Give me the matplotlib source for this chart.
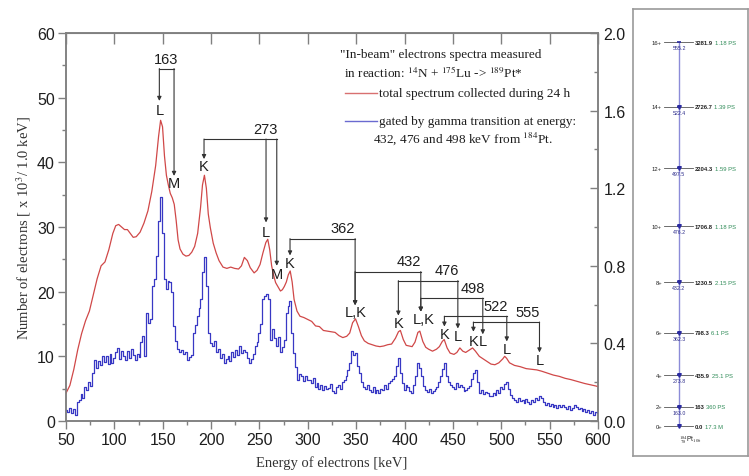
import numpy as np
import matplotlib
matplotlib.use("Agg")
import matplotlib.pyplot as plt
from matplotlib.ticker import MultipleLocator, FormatStrFormatter

plt.rcParams['font.family'] = ['Liberation Sans', 'DejaVu Sans']
plt.rcParams['mathtext.fontset'] = 'stix'

# ---------------- spectra ----------------
# total in-beam spectrum (counts x 10^3 per 1 keV)
red_energy = [50, 54, 58.1, 62.1, 66.1, 70.2, 74.2, 78.2, 82.2, 86.3,
              90.3, 94.3, 98.4, 101.4, 104.4, 107.4, 110.5, 113.5, 116.5, 119.5,
              122.6, 126.6, 130.6, 134.7, 138.7, 142.7, 145.7, 147.8, 149.8, 151.8,
              153.8, 155.8, 157.8, 159.9, 161.9, 163.9, 165.9, 167.9, 170.9, 174.0,
              177.0, 180.0, 183.0, 186.1, 189.1, 191.1, 193.1, 195.1, 197.1, 199.2,
              202.2, 205.2, 208.2, 212.3, 216.3, 220.3, 224.3, 228.4, 231.4, 234.4,
              237.5, 240.5, 244.5, 247.5, 250.6, 253.6, 256.6, 258.6, 260.6, 262.6,
              264.7, 266.7, 269.7, 271.7, 273.7, 275.7, 277.8, 279.8, 281.8, 283.8,
              285.8, 288.8, 291.9, 295.9, 299.9, 304.0, 308.0, 312.0, 316.1, 320.1,
              324.1, 328.2, 332.2, 336.2, 340.2, 343.3, 346.3, 349.3, 352.3, 355.4,
              358.4, 362.4, 366.4, 370.5, 374.5, 378.5, 382.6, 386.6, 390.6, 393.7,
              395.7, 398.7, 401.7, 404.7, 407.8, 410.8, 413.8, 415.8, 418.9, 421.9,
              424.9, 428.9, 433.0, 436.0, 439.0, 441.0, 444.0, 447.1, 451.1, 454.1,
              457.2, 460.2, 463.2, 467.2, 470.3, 473.3, 477.3, 481.3, 485.4, 489.4,
              493.4, 497.5, 501.5, 503.5, 505.5, 508.5, 513.6, 519.6, 525.7, 531.7,
              536.8, 541.8, 547.9, 553.9, 560.0, 566.0, 572.0, 579.1, 586.2, 592.2,
              598.2, 600]
red_counts = [4.3, 5.5, 8.0, 11.0, 13.5, 15.5, 17.0, 19.5, 22.0, 24.0,
              24.6, 26.5, 29.0, 30.2, 30.4, 30.0, 29.6, 29.6, 29.0, 28.4,
              28.5, 29.2, 30.6, 32.5, 35.5, 39.5, 44.0, 46.5, 45.5, 41.0,
              38.0, 36.5, 35.2, 34.5, 33.5, 31.0, 28.0, 26.6, 25.8, 25.5,
              25.6, 26.1, 27.0, 29.0, 33.0, 36.5, 38.0, 36.0, 32.0, 29.9,
              27.5, 26.0, 24.8, 23.8, 23.6, 23.8, 23.6, 23.5, 24.0, 25.3,
              24.8, 23.7, 22.9, 23.3, 24.2, 26.0, 27.6, 28.1, 26.5, 24.0,
              22.5, 21.4, 20.6, 20.1, 20.3, 20.8, 21.5, 22.6, 23.2, 21.5,
              18.8, 17.0, 16.2, 16.0, 15.7, 15.4, 14.7, 14.6, 14.0, 13.9,
              13.8, 13.7, 13.2, 12.9, 13.1, 13.6, 15.2, 15.8, 14.6, 13.2,
              12.4, 12.0, 11.8, 11.6, 11.5, 11.6, 11.8, 11.9, 12.8, 13.8,
              14.0, 12.6, 11.7, 11.6, 11.5, 12.2, 13.7, 13.9, 12.3, 11.4,
              11.1, 10.8, 11.1, 11.5, 12.3, 12.6, 11.3, 10.5, 10.3, 10.6,
              11.3, 10.8, 10.6, 11.0, 11.3, 10.8, 10.0, 9.6, 9.2, 8.8,
              8.7, 9.0, 9.6, 10.0, 9.7, 9.0, 8.6, 8.4, 8.1, 8.0,
              7.9, 7.7, 7.4, 7.1, 6.9, 6.6, 6.4, 6.1, 5.8, 5.6,
              5.4, 5.3]

# gamma-gated spectrum, 2 keV channels starting at 50 keV
blue_counts = [1.7, 1.4, 2.0, 1.2, 1.8, 1.0, 2.9, 3.3, 4.1, 3.6,
               5.3, 4.8, 6.0, 5.4, 7.4, 9.5, 8.2, 9.3, 8.7, 10.0,
               9.1, 10.1, 8.8, 10.3, 9.0, 9.8, 10.6, 11.3, 9.6, 10.8,
               10.1, 9.4, 10.9, 9.8, 11.1, 10.2, 9.5, 10.4, 9.9, 12.2,
               13.1, 10.1, 16.7, 15.2, 15.7, 20.9, 22.0, 25.5, 31.0, 34.6,
               29.0, 22.0, 20.4, 21.7, 21.5, 19.9, 14.7, 12.4, 11.2, 10.6,
               11.0, 10.4, 10.6, 9.5, 9.9, 10.2, 13.6, 14.8, 16.2, 17.5, 18.8,
               23.0, 25.3, 20.9, 13.6, 12.0, 11.6, 12.4, 10.6, 11.2, 9.8,
               10.4, 9.0, 9.6, 10.1, 9.3, 10.6, 9.9, 11.0, 10.2, 11.6,
               10.5, 11.0, 10.6, 9.8, 9.0, 9.6, 10.4, 11.6, 12.2, 13.6,
               15.0, 18.8, 19.3, 19.6, 18.8, 12.6, 14.2, 12.8, 11.6, 13.0,
               10.6, 11.4, 12.6, 16.7, 17.8, 18.5, 13.6, 10.5, 8.4, 6.4,
               7.2, 6.9, 6.2, 7.0, 6.3, 6.4, 5.8, 6.6, 5.3, 5.9,
               5.0, 5.6, 4.8, 5.4, 4.9, 5.1, 5.7, 4.6, 4.3, 5.2,
               5.6, 5.0, 6.0, 6.4, 7.0, 7.9, 9.0, 10.8, 10.2, 10.5,
               8.5, 7.4, 6.0, 5.3, 5.0, 5.6, 4.8, 4.5, 5.2, 4.3,
               4.8, 4.4, 5.0, 4.8, 5.5, 5.0, 5.8, 6.2, 6.5, 6.9,
               8.5, 9.7, 7.4, 5.8, 4.8, 5.5, 5.3, 4.6, 4.3, 5.6,
               6.9, 9.0, 8.2, 6.9, 5.4, 4.8, 4.5, 5.0, 4.3, 4.6, 4.9,
               5.3, 6.1, 6.9, 8.0, 9.0, 6.9, 6.0, 5.6, 5.3, 4.9,
               5.8, 5.2, 5.6, 5.3, 4.6, 4.8, 5.1, 5.4, 6.5, 7.4,
               7.9, 6.0, 4.3, 4.8, 4.1, 4.5, 4.3, 3.9, 3.8, 4.4,
               4.0, 4.8, 4.4, 5.3, 5.0, 5.7, 6.1, 5.0, 4.0, 3.6,
               3.2, 3.0, 3.5, 3.1, 3.3, 2.8, 3.4, 2.9, 2.7, 3.2,
               3.0, 3.5, 3.3, 3.8, 3.6, 2.9, 2.5, 2.8, 2.3, 2.6,
               2.2, 2.5, 2.0, 2.4, 2.1, 2.5, 2.2, 1.9, 2.3, 1.7,
               2.0, 2.4, 2.2, 1.8, 2.0, 1.5, 1.8, 1.4, 1.7, 1.3,
               1.6, 1.0, 1.4, 1.2]
blue_energy = 50 + 2 * np.arange(len(blue_counts))

# ---------------- conversion-electron line markers ----------------
bracket_labels = ["163", "273", "362", "432", "476", "498", "522", "555"]
bracket_label_x = [153.4, 256.6, 336.4, 404.7, 444.0, 470.4, 494.5, 527.2]
bracket_label_y = [54.9, 44.0, 28.8, 23.6, 22.2, 19.5, 16.7, 15.8]
bracket_line_y = [54.5, 43.6, 28.2, 23.1, 21.7, 19.0, 16.2, 15.3]
bracket_legs = [[146.5, 161.7], [192.7, 256.8, 267.9], [281.6, 348.9],
                [348.9, 416.8], [393.6, 455.1], [416.8, 480.9],
                [441.2, 505.7], [471.2, 539.5]]
bracket_tips = [[49.5, 37.9], [40.5, 30.7, 24.0], [25.6, 17.9],
                [17.9, 16.9], [16.3, 14.3], [16.9, 13.4],
                [14.6, 12.3], [13.8, 10.6]]

shell_text = ["L", "M", "K", "L", "M", "K", "L,K", "L,K",
              "K", "L", "L", "K", "L", "K", "L"]
shell_x = [146.5, 161.7, 192.7, 256.8, 267.9, 281.6, 350.0, 420.0,
           393.6, 455.1, 480.9, 441.2, 505.7, 471.9, 539.5]
shell_y = [48.1, 36.8, 39.5, 29.2, 22.7, 24.5, 16.8, 15.8,
           15.2, 13.2, 12.3, 13.4, 11.1, 12.4, 9.4]

# ---------------- level scheme of 184Pt ----------------
level_spins = ["0+", "2+", "4+", "6+", "8+", "10+", "12+", "14+", "16+"]
level_energies = [0.0, 163.0, 435.9, 798.3, 1230.5, 1706.8, 2204.3, 2726.7, 3281.9]
level_energy_text = ["0.0", "163", "435.9", "798.3", "1230.5", "1706.8",
                     "2204.3", "2726.7", "3281.9"]
level_lifetimes = ["17.3 M", "360 PS", "25.1 PS", "6.1 PS", "2.15 PS",
                   "1.18 PS", "1.59 PS", "1.39 PS", "1.18 PS"]
gamma_text = ["163.0", "273.8", "362.3", "432.2", "476.2", "497.5", "522.4", "555.2"]

W, H = 749, 477
fig = plt.figure(figsize=(W / 100, H / 100), dpi=100)

ax = fig.add_axes([66 / W, 1 - 422 / H, 532 / W, 388 / H])
spine_c = '#808080'
text_c = '#1e1e1e'

ax.plot(red_energy, red_counts, color='#d04848', lw=0.9, zorder=3)
ax.plot(blue_energy, blue_counts, color='#3838c4', lw=0.9,
        drawstyle='steps-mid', zorder=3)

ax.set_xlim(50, 600)
ax.set_ylim(0, 60)
ax.xaxis.set_major_locator(MultipleLocator(50))
ax.xaxis.set_minor_locator(MultipleLocator(25))
ax.yaxis.set_major_locator(MultipleLocator(10))
ax.yaxis.set_minor_locator(MultipleLocator(5))
ax.tick_params(which='major', direction='out', length=6, width=1,
               color=spine_c, labelsize=11.5, labelcolor=text_c, pad=2)
ax.tick_params(which='minor', direction='out', length=3, width=1, color=spine_c)
for s in ax.spines.values():
    s.set_color(spine_c)
    s.set_linewidth(1.1)

top = ax.secondary_xaxis('top')
top.set_xticks(np.arange(50, 601, 50))
top.tick_params(direction='in', length=8, width=1, color=spine_c, labeltop=False)
top.spines['top'].set_color(spine_c)

ax2 = ax.twinx()
ax2.set_ylim(0, 2.0)
ax2.yaxis.set_major_locator(MultipleLocator(0.4))
ax2.yaxis.set_minor_locator(MultipleLocator(0.2))
ax2.yaxis.set_major_formatter(FormatStrFormatter('%.1f'))
ax2.tick_params(which='major', direction='in', length=6, width=1,
                color=spine_c, labelsize=11.5, labelcolor=text_c, pad=4)
ax2.tick_params(which='minor', direction='in', length=3, width=1, color=spine_c)
for s in ax2.spines.values():
    s.set_color(spine_c)
    s.set_linewidth(1.1)

ax.set_ylabel("Number of electrons [ x 10$^3$/ 1.0 keV]",
              family='Liberation Serif', fontsize=10.5, color='#333333')
ax.yaxis.set_label_coords(-0.062, 0.5)
ax.set_xlabel("Energy of electrons [keV]", family='Liberation Serif',
              fontsize=10.5, color='#333333')
ax.xaxis.set_label_coords(0.5, -0.088)

# brackets with arrows
line_c = '#333333'
for lab, lx, ly, hy, legs, tips in zip(bracket_labels, bracket_label_x,
                                       bracket_label_y, bracket_line_y,
                                       bracket_legs, bracket_tips):
    ax.plot([min(legs), max(legs)], [hy, hy], color=line_c, lw=0.8, zorder=4)
    for lx_leg, tip in zip(legs, tips):
        ax.annotate('', xy=(lx_leg, tip), xytext=(lx_leg, hy),
                    arrowprops=dict(arrowstyle='-|>', color=line_c, lw=0.8,
                                    mutation_scale=6, shrinkA=0, shrinkB=0),
                    zorder=4)
    ax.text(lx, ly, lab, ha='center', va='bottom', fontsize=10.5, color=text_c,
            zorder=5)

for t, sx, sy in zip(shell_text, shell_x, shell_y):
    ax.text(sx, sy, t, ha='center', va='center', fontsize=10.5, color=text_c,
            zorder=5)

# legend block
def fx(px):
    return (px - 66) / 532

def fy(py):
    return (422 - py) / 388

serif = dict(family='Liberation Serif', fontsize=9.5, color=text_c,
             transform=ax.transAxes, va='center', ha='left')
ax.text(fx(340), fy(55), '"In-beam" electrons spectra measured', **serif)
ax.text(fx(344), fy(73), r'in reaction: $^{14}$N + $^{175}$Lu -> $^{189}$Pt*', **serif)
ax.plot([fx(345), fx(377)], [fy(94.3), fy(94.3)], color='#d87070', lw=1.0,
        transform=ax.transAxes)
ax.text(fx(379), fy(94.3), 'total spectrum collected during 24 h', **serif)
ax.plot([fx(345), fx(377)], [fy(121.7), fy(121.7)], color='#6a6ad0', lw=1.0,
        transform=ax.transAxes)
ax.text(fx(379), fy(121.7), 'gated by gamma transition at energy:', **serif)
ax.text(fx(373), fy(139), r'432, 476 and 498 keV from $^{184}$Pt.', **serif)

# level scheme panel
pax = fig.add_axes([633 / W, 1 - 457 / H, 115 / W, 447 / H])
pax.set_xlim(0, 115)
pax.set_ylim(-256, 3564)
pax.set_xticks([])
pax.set_yticks([])
for s in pax.spines.values():
    s.set_color('#9a9a9a')
    s.set_linewidth(1.2)

vx = 46
pax.plot([vx, vx], [level_energies[0], level_energies[-1]], color='#8c8cd8', lw=1.0)
for spin, e, et, life in zip(level_spins, level_energies, level_energy_text,
                             level_lifetimes):
    pax.plot([31, 60], [e, e], color='#555555', lw=0.6)
    pax.text(29, e, spin, ha='right', va='center', fontsize=4.2, color='#222222')
    t = pax.text(61.5, e, et, ha='left', va='center', fontsize=4.2,
                 fontweight='bold', color='#222222')
    pax.annotate(life, xy=(1, 0.5), xycoords=t, xytext=(1.5, 0),
                 textcoords='offset points', ha='left', va='center',
                 fontsize=4.2, color='#2e8b57')
pax.plot([vx] * (len(level_energies) - 1), level_energies[:-1], ls='none',
         marker='v', ms=2.6, color='#2a2aa0')
pax.plot([vx] * (len(level_energies) - 1), level_energies[1:], ls='none',
         marker='_', ms=3.5, mew=1.2, color='#2a2aa0')
for g, e in zip(gamma_text, level_energies[1:]):
    pax.text(vx, e - 25, g, ha='center', va='top', fontsize=3.8, color='#2b2b8a')
pax.text(57, -115, r'$^{184}_{\ 78}$Pt$_{106}$', ha='center', va='center',
         fontsize=4.8, color='#222222')

fig.savefig('out.png', dpi=100)
